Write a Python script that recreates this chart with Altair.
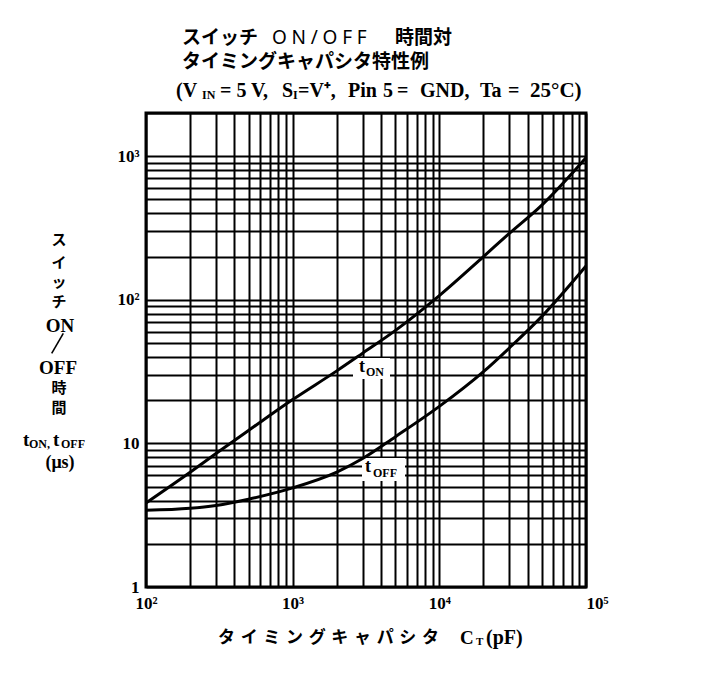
import altair as alt
import pandas as pd

# ---- data ----
ct_pf = [100, 200, 300, 500, 1000, 2000, 3000, 5000, 10000, 20000, 30000, 50000, 100000]
t_on_us = [3.85, 6.3, 8.5, 12.3, 20.2, 32, 42.5, 61, 107, 200, 290, 457, 977]
t_off_us = [3.42, 3.53, 3.70, 4.09, 4.90, 6.31, 7.85, 11.1, 18.1, 31.6, 46.2, 76.7, 172]

x_grid = [m * d for d in (100, 1000, 10000) for m in range(1, 10)] + [100000]
y_grid = [m * d for d in (1, 10, 100) for m in range(1, 10)] + [1000, 2000]
x_tick_labels = {100: "10²", 1000: "10³", 10000: "10⁴", 100000: "10⁵"}
y_tick_labels = {1: "1", 10: "10", 100: "10²", 1000: "10³"}

SERIF = "Liberation Serif"
JP = "Noto Sans CJK JP"


def label_expr(d):
    e = "''"
    for k, v in reversed(list(d.items())):
        e = f"datum.value == {k} ? '{v}' : ({e})"
    return e


df = pd.DataFrame({
    "ct": ct_pf + ct_pf,
    "t": t_on_us + t_off_us,
    "series": ["tON"] * len(ct_pf) + ["tOFF"] * len(ct_pf),
})

lines = alt.Chart(df).mark_line(color="black", strokeWidth=3, interpolate="monotone").encode(
    x=alt.X("ct:Q", title=None,
            scale=alt.Scale(type="log", domain=[100, 100000], nice=False),
            axis=alt.Axis(values=x_grid, labelExpr=label_expr(x_tick_labels), grid=True,
                          gridColor="black", gridWidth=2, gridOpacity=1, ticks=False, domain=False,
                          labelFont=SERIF, labelFontWeight="bold", labelFontSize=17, labelColor="black",
                          labelPadding=8, labelFlush=False, labelOverlap=False,
                          labelAlign={"condition": {"test": "datum.value >= 99999", "value": "left"},
                                      "value": "center"})),
    y=alt.Y("t:Q", title=None,
            scale=alt.Scale(type="log", domain=[1, 2000], nice=False),
            axis=alt.Axis(values=y_grid, labelExpr=label_expr(y_tick_labels), grid=True,
                          gridColor="black", gridWidth=2, gridOpacity=1, ticks=False, domain=False,
                          labelFont=SERIF, labelFontWeight="bold", labelFontSize=17, labelColor="black",
                          labelPadding=7, labelOverlap=False)),
    detail="series:N",
)

one = pd.DataFrame({"d": [0]})


def txt(s, x, y, size=17, font=SERIF, weight="bold", align="left", baseline="middle"):
    return alt.Chart(one).mark_text(text=s, font=font, fontSize=size, fontWeight=weight,
                                    align=align, baseline=baseline, color="black").encode(
        x=alt.value(x), y=alt.value(y))


def box(x1, y1, x2, y2):
    return alt.Chart(one).mark_rect(color="white").encode(
        x=alt.value(x1), x2=alt.value(x2), y=alt.value(y1), y2=alt.value(y2))


def stroke(x1, y1, x2, y2, w=1.6):
    return alt.Chart(one).mark_rule(color="black", strokeWidth=w).encode(
        x=alt.value(x1), x2=alt.value(x2), y=alt.value(y1), y2=alt.value(y2))


SP = "\u2004"
SP_TITLE = "\u2005"
TL3 = -22
texts = [
    # title
    txt("スイッチ", 36, -75, 19, JP),
    txt(SP_TITLE.join("ON/OFF"), 126, -75, 19, "Noto Sans", "normal"),
    txt("時間対", 249, -75, 19, JP),
    txt("タイミングキャパシタ特性例", 36, -51, 19, JP),
    txt("(V", 30, TL3, 20),
    txt("IN", 56, TL3 + 4, 12),
    txt("= 5 V,", 74, TL3, 20),
    txt("S", 136, TL3, 20),
    txt("I", 147, TL3 + 4, 12),
    txt("=V⁺,", 152, TL3, 20),
    txt("Pin", 202, TL3, 20),
    txt("5", 237, TL3, 20),
    txt("=", 251, TL3, 20),
    txt("GND,", 274, TL3, 20),
    txt("Ta", 334, TL3, 20),
    txt("=", 362, TL3, 20),
    txt("25°C)", 384, TL3, 21),
    # y title
    txt("ス", -87, 127, 15, JP, align="center"),
    txt("イ", -87, 150, 15, JP, align="center"),
    txt("ッ", -87, 169, 15, JP, align="center"),
    txt("チ", -87, 189, 15, JP, align="center"),
    txt("ON", -86, 213, 19, align="center"),
    txt("OFF", -88, 255, 19, align="center"),
    txt("時", -87, 275, 15, JP, align="center"),
    txt("間", -87, 295, 15, JP, align="center"),
    txt("t", -123, 327, 19),
    txt("ON,", -117, 331, 12),
    txt("t", -93, 327, 19),
    txt("OFF", -85, 331, 12),
    txt("(μs)", -86, 350, 18, align="center"),
    # x title
    txt(SP.join("タイミングキャパシタ"), 72, 525, 17, JP),
    txt("C", 314, 525, 19),
    txt("T", 330, 529, 11),
    txt("(pF)", 340, 525, 20),
    # curve labels
    txt("t", 213, 254, 18),
    txt("ON", 220, 259, 12),
    txt("t", 219, 354, 18),
    txt("OFF", 227, 360, 12),
]

boxes = [box(207, 245, 244, 266), box(216, 345, 259, 368)]
slash = stroke(-94.3, 240.3, -82.7, 220.3)

chart = alt.layer(*boxes, lines, slash, *texts).properties(
    width=440, height=474,
    autosize=alt.AutoSizeParams(type="none"),
    padding={"left": 138, "top": 105, "right": 100, "bottom": 75},
    background="white",
).configure_view(stroke="black", strokeWidth=3)

chart.save("out.html", embed_options={"renderer": "svg", "actions": False})
